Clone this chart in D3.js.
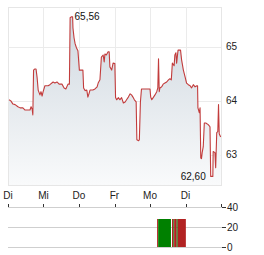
<!DOCTYPE html>
<html>
<head>
<meta charset="utf-8">
<script src="https://cdn.jsdelivr.net/npm/d3@7"></script>
<style>
  body { margin: 0; background: #fff; }
  svg { display: block; font-family: "Liberation Sans", Arial, sans-serif; }
</style>
</head>
<body>
<svg id="chart"></svg>
<script>
// day labels along the time axis (one per trading day start)
const dayLabels = ["Di", "Mi", "Do", "Fr", "Mo", "Di"];
const priceTicks = [63, 64, 65];
const volumeTicks = [0, 20, 40];

// time in days since first label, price in EUR
const times = [
  0.03, 0.08, 0.14, 0.20, 0.28, 0.34, 0.42, 0.48, 0.56, 0.62,
  0.65, 0.68, 0.70, 0.72, 0.75, 0.79, 0.82, 0.85, 0.90, 0.93,
  0.96, 0.99, 1.04, 1.13, 1.18, 1.27, 1.32, 1.38, 1.44, 1.52,
  1.58, 1.63, 1.69, 1.73, 1.75, 1.79, 1.82, 1.83, 1.86, 1.89,
  1.93, 1.97, 2.01, 2.11, 2.13, 2.17, 2.22, 2.25, 2.28, 2.31,
  2.39, 2.45, 2.51, 2.54, 2.59, 2.63, 2.68, 2.71, 2.73, 2.77,
  2.82, 2.85, 2.87, 2.92, 2.96, 3.01, 3.03, 3.06, 3.11, 3.15,
  3.20, 3.25, 3.30, 3.34, 3.39, 3.44, 3.48, 3.52, 3.56, 3.61,
  3.63, 3.68, 3.70, 3.73, 3.76, 4.00, 4.02, 4.05, 4.09, 4.14,
  4.19, 4.22, 4.24, 4.26, 4.28, 4.33, 4.37, 4.42, 4.47, 4.52,
  4.56, 4.60, 4.63, 4.68, 4.70, 4.73, 4.75, 4.79, 4.86, 4.89,
  4.94, 4.99, 5.03, 5.08, 5.13, 5.17, 5.22, 5.27, 5.32, 5.34,
  5.35, 5.39, 5.41, 5.43, 5.45, 5.47, 5.50, 5.53, 5.57, 5.64,
  5.69, 5.71, 5.77, 5.78, 5.83, 5.85, 5.88, 5.91, 5.93, 5.95,
  5.99
];
const prices = [
  64.02, 64.00, 63.94, 63.93, 63.89, 63.87, 63.87, 63.83, 63.83, 63.83,
  63.89, 63.85, 63.74, 64.57, 64.59, 64.59, 64.43, 64.20, 64.11, 64.17,
  64.09, 64.17, 64.28, 64.28, 64.30, 64.35, 64.33, 64.35, 64.31, 64.31,
  64.24, 64.22, 64.31, 64.31, 65.54, 65.56, 65.56, 65.35, 65.17, 65.06,
  64.98, 64.93, 64.57, 64.57, 64.24, 64.19, 64.20, 64.07, 64.13, 64.20,
  64.20, 64.22, 64.26, 64.33, 64.39, 64.81, 64.85, 64.72, 64.87, 64.85,
  64.91, 64.91, 64.63, 64.57, 64.70, 64.69, 64.06, 64.02, 64.06, 64.02,
  64.06, 63.96, 63.98, 64.02, 64.07, 64.13, 64.11, 64.07, 64.02, 63.98,
  63.28, 63.26, 63.28, 63.98, 64.22, 64.22, 64.07, 64.02, 64.06, 64.11,
  64.17, 64.24, 64.78, 64.17, 64.24, 64.26, 64.31, 64.33, 64.35, 64.39,
  64.41, 64.39, 64.70, 64.65, 64.85, 64.89, 64.70, 64.94, 64.94, 64.76,
  64.57, 64.44, 64.33, 64.30, 64.28, 64.24, 64.30, 64.26, 64.28, 64.28,
  63.87, 63.78, 63.87, 62.94, 62.93, 63.04, 63.15, 63.59, 63.59, 63.56,
  63.52, 62.60, 62.60, 63.06, 63.04, 62.76, 63.41, 63.43, 63.93, 63.39,
  63.33
];

// volume bars (in 1000 shares)
const volFrom = [4.20, 4.23, 4.62, 4.66, 4.68, 4.75, 4.78];
const volTo = [4.23, 4.59, 4.66, 4.68, 4.75, 4.78, 5.01];
const volValue = [28, 28, 28, 28, 28, 28, 28];
const volUp = [false, true, false, true, false, true, false];

document.addEventListener("DOMContentLoaded", function() {
  const width = 264;
  const height = 255;
  const left = 8, right = 221;
  const top = 7, bottom = 185;

  const svg = d3.select("#chart")
      .attr("width", width)
      .attr("height", height);

  const x = d3.scaleLinear().domain([0, 6]).range([left, right]);
  const y = d3.scaleLinear().domain([62.44, 65.74]).range([bottom, top]);
  const yv = d3.scaleLinear().domain([0, 40]).range([247, 207]);

  const data = times.map((t, i) => ({ t: t, p: prices[i] }));

  const grad = svg.append("defs").append("linearGradient")
      .attr("id", "fill")
      .attr("gradientUnits", "userSpaceOnUse")
      .attr("x1", 0).attr("x2", 0)
      .attr("y1", y(65.3)).attr("y2", bottom);
  grad.append("stop").attr("offset", 0).attr("stop-color", "#d3dbe2");
  grad.append("stop").attr("offset", 1).attr("stop-color", "#f9fafb");

  // price panel grid
  svg.append("rect")
      .attr("x", left + 0.5).attr("y", top + 0.5)
      .attr("width", right - left).attr("height", bottom - top)
      .attr("fill", "none")
      .attr("stroke", "#e6e6e6");

  svg.append("g").selectAll("line")
      .data(d3.range(1, 6))
      .enter().append("line")
      .attr("x1", d => Math.round(x(d)) + 0.5).attr("x2", d => Math.round(x(d)) + 0.5)
      .attr("y1", top).attr("y2", bottom)
      .attr("stroke", "#ebebeb");

  svg.append("g").selectAll("line")
      .data(priceTicks)
      .enter().append("line")
      .attr("x1", left).attr("x2", right)
      .attr("y1", d => Math.round(y(d)) + 0.5).attr("y2", d => Math.round(y(d)) + 0.5)
      .attr("stroke", "#ebebeb");

  svg.append("path")
      .datum(data)
      .attr("fill", "url(#fill)")
      .attr("d", d3.area().x(d => x(d.t)).y0(bottom).y1(d => y(d.p)));

  svg.append("path")
      .datum(data)
      .attr("fill", "none")
      .attr("stroke", "#c23c3c")
      .attr("stroke-width", 1.1)
      .attr("stroke-linejoin", "round")
      .attr("d", d3.line().x(d => x(d.t)).y(d => y(d.p)));

  // price labels on the right
  svg.append("g").selectAll("text")
      .data(priceTicks)
      .enter().append("text")
      .attr("x", 226)
      .attr("y", d => y(d))
      .attr("dy", "0.35em")
      .attr("font-size", 10)
      .attr("fill", "#222")
      .text(d => d);

  // high / low annotations
  const hi = data[d3.maxIndex(data, d => d.p)];
  const lo = data[d3.minIndex(data, d => d.p)];
  const fmt = v => v.toFixed(2).replace(".", ",");

  svg.append("text")
      .attr("x", x(hi.t) + 3)
      .attr("y", y(hi.p))
      .attr("dy", "0.35em")
      .attr("font-size", 10)
      .attr("fill", "#111")
      .text(fmt(hi.p));

  svg.append("text")
      .attr("x", x(lo.t) - 5)
      .attr("y", y(lo.p))
      .attr("dy", "0.35em")
      .attr("text-anchor", "end")
      .attr("font-size", 10)
      .attr("fill", "#111")
      .text(fmt(lo.p));

  // day labels
  svg.append("g").selectAll("text")
      .data(dayLabels)
      .enter().append("text")
      .attr("x", (d, i) => x(i))
      .attr("y", 195)
      .attr("dy", "0.35em")
      .attr("text-anchor", "middle")
      .attr("font-size", 10)
      .attr("fill", "#222")
      .text(d => d);

  // volume panel
  svg.append("g").selectAll("line")
      .data(volumeTicks)
      .enter().append("line")
      .attr("x1", left).attr("x2", right + 1)
      .attr("y1", d => Math.round(yv(d)) + 0.5).attr("y2", d => Math.round(yv(d)) + 0.5)
      .attr("stroke", "#cfcfcf");

  svg.append("g").selectAll("line")
      .data(d3.range(0, 7))
      .enter().append("line")
      .attr("x1", d => Math.round(x(d)) + 0.5).attr("x2", d => Math.round(x(d)) + 0.5)
      .attr("y1", yv(40) - 3).attr("y2", yv(40))
      .attr("stroke", "#333");

  svg.append("g").selectAll("rect")
      .data(volValue)
      .enter().append("rect")
      .attr("x", (d, i) => x(volFrom[i]))
      .attr("width", (d, i) => x(volTo[i]) - x(volFrom[i]))
      .attr("y", d => yv(d))
      .attr("height", d => yv(0) - yv(d))
      .attr("fill", (d, i) => volUp[i] ? "#008000" : "#b22222");

  const vAxis = svg.append("g").selectAll("g")
      .data(volumeTicks)
      .enter().append("g")
      .attr("transform", d => "translate(0," + (Math.round(yv(d)) + 0.5) + ")");
  vAxis.append("line")
      .attr("x1", right + 1).attr("x2", right + 5)
      .attr("stroke", "#333");
  vAxis.append("text")
      .attr("x", 227)
      .attr("dy", "0.35em")
      .attr("font-size", 10)
      .attr("fill", "#222")
      .text(d => d);
});
</script>
</body>
</html>
